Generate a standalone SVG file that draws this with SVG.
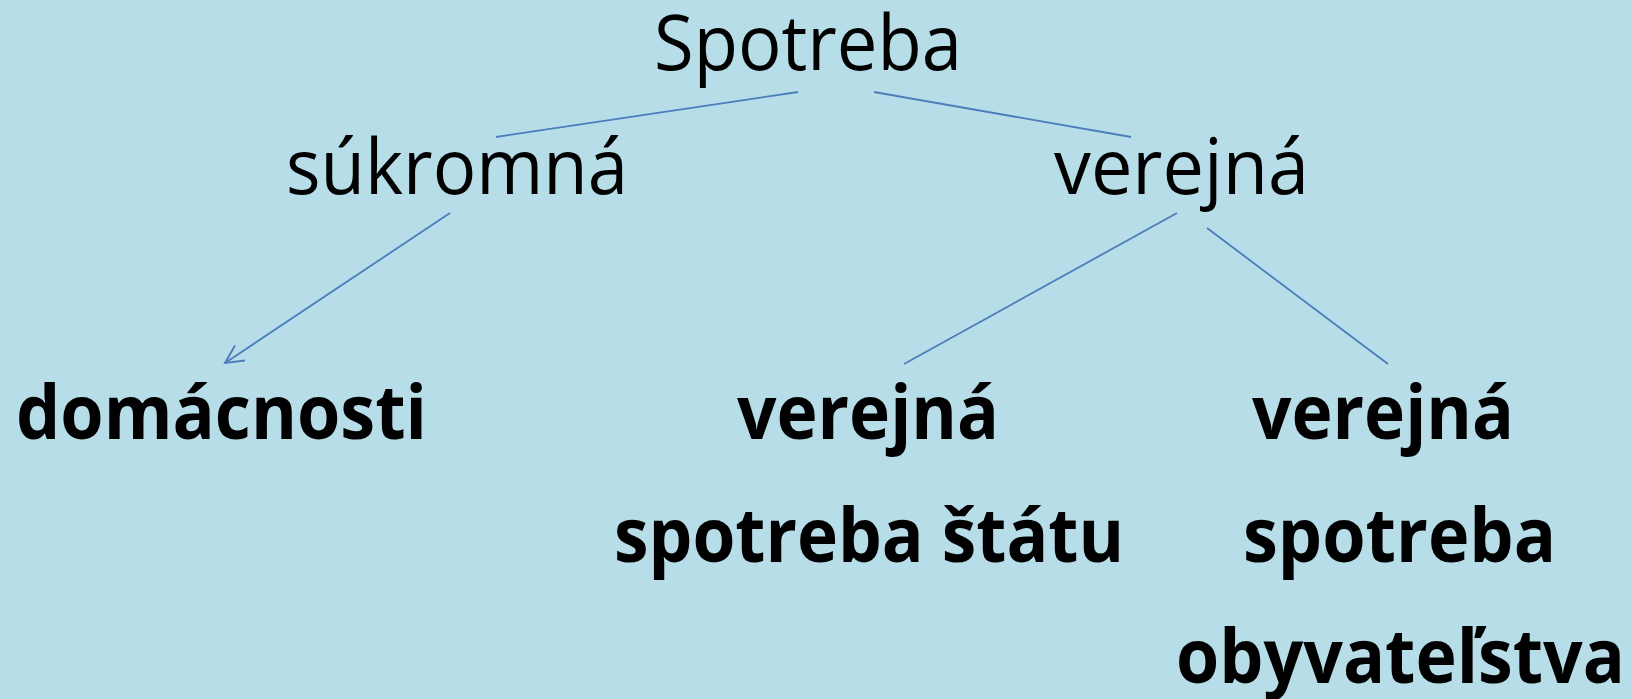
<svg xmlns="http://www.w3.org/2000/svg" width="1632" height="699" viewBox="0 0 1632 699">
<style>
.t{font-family:"Open Sans","Noto Sans","Liberation Sans",sans-serif;fill:#000;font-size:76px}
.r{font-weight:400}
.b{font-weight:700}
.c{stroke:#4A7EBB;stroke-width:1.8;fill:none}
</style>
<defs>
<marker id="arr" markerWidth="24" markerHeight="24" refX="20" refY="12" orient="auto" markerUnits="userSpaceOnUse">
<path d="M2,3 L20,12 L2,21" fill="none" stroke="#4A7EBB" stroke-width="1.8"/>
</marker>
</defs>
<rect width="1632" height="699" fill="#B7DDE8"/>
<g id="connectors">
<line class="c" x1="798" y1="92" x2="496" y2="137"/>
<line class="c" x1="874" y1="92" x2="1131" y2="137"/>
<line class="c" x1="450" y1="213" x2="225" y2="363" marker-end="url(#arr)"/>
<line class="c" x1="1177" y1="213" x2="904" y2="364"/>
<line class="c" x1="1207" y1="228" x2="1388" y2="364"/>
</g>
<g id="spotreba"><text class="t r" x="654" y="70" textLength="308" lengthAdjust="spacingAndGlyphs">Spotreba</text></g>
<g id="sukromna"><text class="t r" x="286" y="194" textLength="342" lengthAdjust="spacingAndGlyphs">súkromná</text></g>
<g id="verejna"><text class="t r" x="1054" y="194" textLength="255" lengthAdjust="spacingAndGlyphs">verejná</text></g>
<g id="domacnosti"><text class="t b" x="16" y="439" textLength="411" lengthAdjust="spacingAndGlyphs">domácnosti</text></g>
<g id="verejna-statu">
<text class="t b" x="737" y="439" textLength="262" lengthAdjust="spacingAndGlyphs">verejná</text>
<text class="t b" x="614" y="562" textLength="510" lengthAdjust="spacingAndGlyphs">spotreba štátu</text>
</g>
<g id="verejna-obyvatelstva">
<text class="t b" x="1252" y="439" textLength="262" lengthAdjust="spacingAndGlyphs">verejná</text>
<text class="t b" x="1243" y="562" textLength="313" lengthAdjust="spacingAndGlyphs">spotreba</text>
<text class="t b" x="1176" y="683" textLength="449" lengthAdjust="spacingAndGlyphs">obyvateľstva</text>
</g>
</svg>
